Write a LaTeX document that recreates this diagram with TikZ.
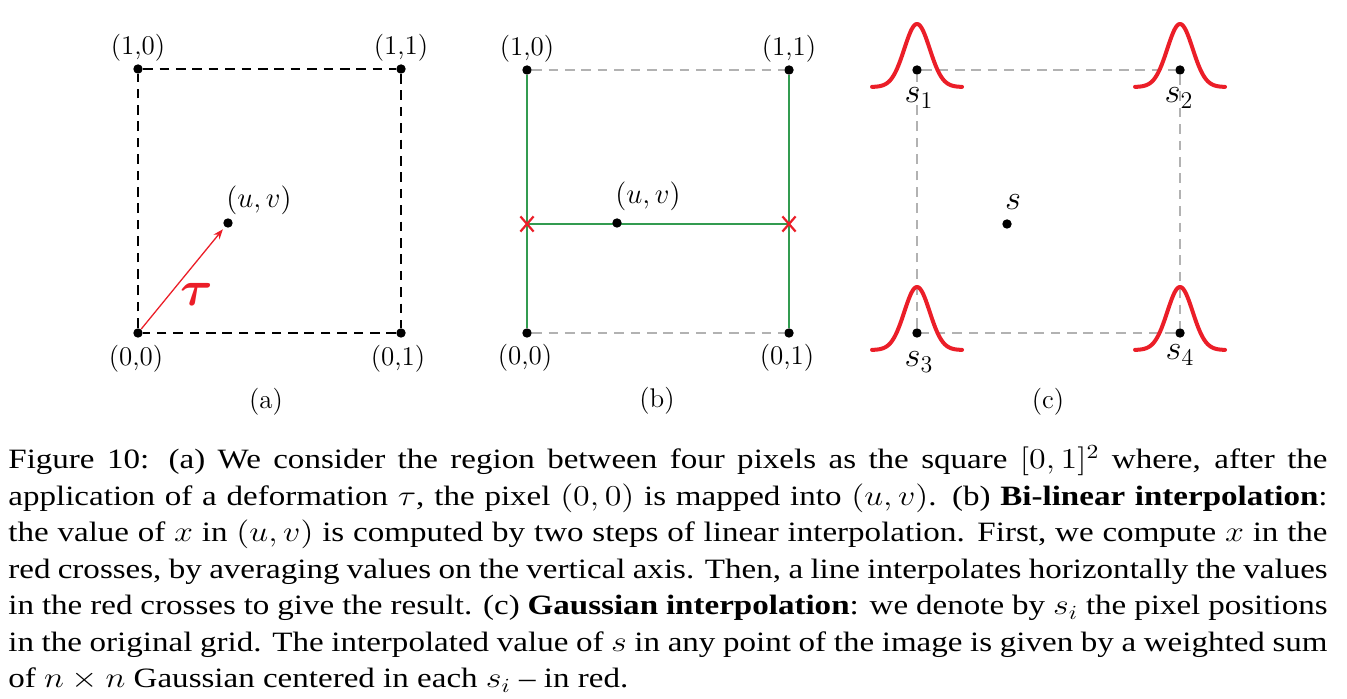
\documentclass[tikz,border=0pt]{standalone}
\usepackage{amsmath}
\usepackage{graphicx}
\usepackage{fontspec}
\newfontfamily\capfont[Ligatures=TeX]{Liberation Serif}
\usetikzlibrary{arrows.meta, shapes.misc}
\definecolor{gaussred}{RGB}{235,30,40}
\definecolor{interpgreen}{RGB}{50,155,80}
\tikzset{
    pixel/.style={circle, fill=black, inner sep=0pt, minimum size=4.7pt},
    grid dash/.style={black, line width=0.85pt, dash pattern=on 4.8pt off 3.4pt},
    grid gray/.style={black!30, line width=0.85pt, dash pattern=on 4.8pt off 3.4pt},
    interp/.style={interpgreen, line width=1pt},
    crossmark/.style={cross out, draw=gaussred, line width=1.1pt, inner sep=0pt,
        minimum width=5.5pt, minimum height=6.5pt},
    gauss/.style={gaussred, line width=2pt, line cap=round},
    tau arrow/.style={gaussred, line width=0.65pt, shorten >=1.5pt,
        -{Stealth[length=5pt, width=3.8pt]}},
    lbl/.style={inner sep=0pt, font=\fontsize{13.5}{16}\selectfont},
    mathlbl/.style={inner sep=0pt, font=\fontsize{15}{18}\selectfont},
    slbl/.style={inner sep=0pt, font=\fontsize{17}{20}\selectfont},
    caption/.style={inner sep=0pt, anchor=north west,
        font=\capfont\fontsize{14}{18.25}\selectfont},
    common settings/.style={x=0.5pt, y=-0.5pt}
}
% one gaussian bump above a pixel: #1 = x, #2 = y of the pixel
\newcommand{\gaussbump}[2]{%
    \draw[gauss] plot[domain=-45:45, samples=80, smooth]
        ({#1+\x}, {#2+17-63*exp(-(\x*\x)/322)});
}

\begin{document}
\begin{tikzpicture}[common settings]
    \useasboundingbox (0,0) rectangle (1347,699);

    % (a) deformation of the pixel square
    \node[pixel] (a10) at (138,69) {};
    \node[pixel] (a11) at (401,69) {};
    \node[pixel] (a00) at (138,333) {};
    \node[pixel] (a01) at (401,333) {};
    \node[pixel] (auv) at (228,223) {};
    \draw[grid dash] (a10) -- (a11);
    \draw[grid dash] (a11) -- (a01);
    \draw[grid dash] (a01) -- (a00);
    \draw[grid dash] (a00) -- (a10);
    \draw[tau arrow] (a00) -- (auv);
    \node[lbl] (la10) at (138,48) {(1,0)};
    \node[lbl] (la11) at (401,48) {(1,1)};
    \node[lbl] (la00) at (136,359) {(0,0)};
    \node[lbl] (la01) at (398,359) {(0,1)};
    \node[mathlbl] (lauv) at (259,200) {$(u,v)$};
    \node[inner sep=0pt, text=gaussred, font=\fontsize{26}{30}\selectfont] (tau) at (197,294) {$\boldsymbol{\tau}$};
    \node[lbl] (capa) at (266,402) {(a)};

    % (b) bi-linear interpolation
    \node[pixel] (b10) at (527,70) {};
    \node[pixel] (b11) at (789,70) {};
    \node[pixel] (b00) at (527,333) {};
    \node[pixel] (b01) at (789,333) {};
    \draw[grid gray] (b10) -- (b11);
    \draw[grid gray] (b00) -- (b01);
    \draw[interp] (b10) -- (b00);
    \draw[interp] (b11) -- (b01);
    \coordinate (bxl) at (527,224);
    \coordinate (bxr) at (789,224);
    \draw[interp] (bxl) -- (bxr);
    \node[crossmark] (crossl) at (bxl) {};
    \node[crossmark] (crossr) at (bxr) {};
    \node[pixel] (buv) at (617,223) {};
    \node[lbl] (lb10) at (527,49) {(1,0)};
    \node[lbl] (lb11) at (789,49) {(1,1)};
    \node[lbl] (lb00) at (525,358) {(0,0)};
    \node[lbl] (lb01) at (787,358) {(0,1)};
    \node[mathlbl] (lbuv) at (648,196) {$(u,v)$};
    \node[lbl] (capb) at (657,401) {(b)};

    % (c) gaussian interpolation
    \node[pixel] (c1) at (917,70) {};
    \node[pixel] (c2) at (1180,70) {};
    \node[pixel] (c3) at (917,333) {};
    \node[pixel] (c4) at (1180,333) {};
    \node[pixel] (cs) at (1007,224) {};
    \draw[grid gray] (c1) -- (c2);
    \draw[grid gray] (c2) -- (c4);
    \draw[grid gray] (c4) -- (c3);
    \draw[grid gray] (c3) -- (c1);
    \gaussbump{917}{70}
    \gaussbump{1180}{70}
    \gaussbump{917}{333}
    \gaussbump{1180}{333}
    \node[slbl] (ls1) at (919,98) {$s_1$};
    \node[slbl] (ls2) at (1179,98) {$s_2$};
    \node[slbl] (ls3) at (919,362) {$s_3$};
    \node[slbl] (ls4) at (1180,355) {$s_4$};
    \node[slbl] (ls) at (1013,202) {$s$};
    \node[lbl] (capc) at (1048,402) {(c)};

    % caption
    \node[caption] (cap) at (8,443) {\scalebox{1.18}[1]{\parbox[t]{559pt}{\strut Figure 10: (a) We consider the region between four pixels as the square $[0,1]^2$ where, after the\linebreak
    application of a deformation $\tau$, the pixel $(0,0)$ is mapped into $(u,v)$. (b) \textbf{Bi-linear interpolation}:\linebreak
    the value of $x$ in $(u,v)$ is computed by two steps of linear interpolation. First, we compute $x$ in the\linebreak
    red crosses, by averaging values on the vertical axis. Then, a line interpolates horizontally the values\linebreak
    in the red crosses to give the result. (c) \textbf{Gaussian interpolation}: we denote by $s_i$ the pixel positions\linebreak
    in the original grid. The interpolated value of $s$ in any point of the image is given by a weighted sum\linebreak
    of $n\times n$ Gaussian centered in each $s_i$ -- in red.}}};
\end{tikzpicture}
\end{document}
